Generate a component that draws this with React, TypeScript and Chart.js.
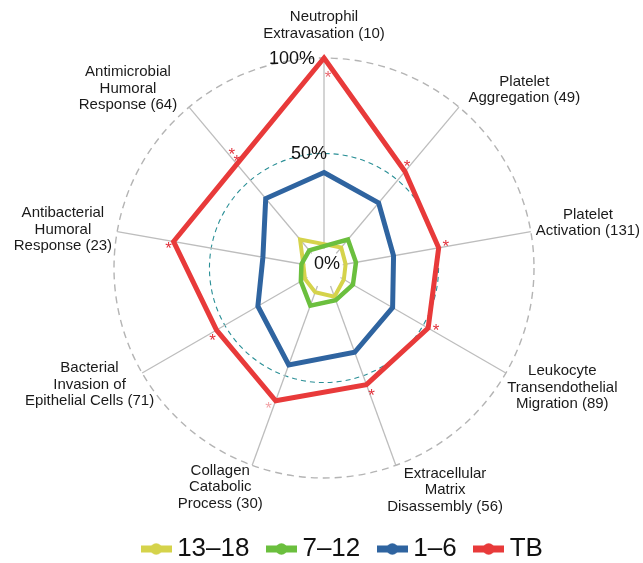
import React, { useEffect, useRef } from 'react';
import { Chart, registerables } from 'chart.js';

Chart.register(...registerables);

// ---------- data ----------
const CATEGORIES: string[][] = [
  ['Neutrophil', 'Extravasation (10)'],
  ['Platelet', 'Aggregation (49)'],
  ['Platelet', 'Activation (131)'],
  ['Leukocyte', 'Transendothelial', 'Migration (89)'],
  ['Extracellular', 'Matrix', 'Disassembly (56)'],
  ['Collagen', 'Catabolic', 'Process (30)'],
  ['Bacterial', 'Invasion of', 'Epithelial Cells (71)'],
  ['Antibacterial', 'Humoral', 'Response (23)'],
  ['Antimicrobial', 'Humoral', 'Response (64)'],
];
const SERIES_NAMES = ['13–18', '7–12', '1–6', 'TB'];
const AGE_13_18 = [2.5, 4, 1.5, 2, 6, 3.5, 1.5, 1, 9.5];
const AGE_7_12 = [1.5, 9.5, 7, 7.5, 8, 11, 4, 2, 2];
const AGE_1_6 = [40, 34.5, 27, 31.5, 37, 44, 30, 22.5, 37.5];
const TB = [100, 56, 51, 53, 55, 64, 55, 70, 61];
const TICK_VALUES = [0, 50, 100];
const TICK_LABELS = ['0%', '50%', '100%'];
// significance asterisks on the TB series: category index and tone
const SIG_INDEX = [0, 1, 2, 3, 4, 5, 6, 7, 8, 8];
const SIG_ALPHA = [0.75, 1, 1, 1, 1, 0.45, 1, 1, 1, 1];

// ---------- styling / layout ----------
const FONT = '"Liberation Sans", Arial, Helvetica, sans-serif';
const COLORS = ['#d5d34b', '#6bbf3e', '#2f64a0', '#e83a3a'];
const WIDTHS = [4, 4.5, 5, 5];
const ORDERS = [3, 2, 1, 0];
const TEAL = '#2a8f96';
const GRID_GRAY = '#b4b4b4';
const CX = 324;
const CY = 268;
const RADIUS = 210;
const LABEL_PAD = 10;
const LABEL_LINE = 16.5;
const LABEL_NUDGE = [[0, -6], [23, 3], [-4, -4], [0, -3], [26, -8], [-14, -11], [12, -6], [4, 4], [-23, 8]];
const SIG_NUDGE = [[4, 15], [2, -9], [7, -6], [8, -2], [5, 6], [-7, 3], [-4, 6], [-5, 3], [-5, -14], [0, -7]];
const TICK_STYLE: [number, number, CanvasTextAlign][] = [[3, 14, 'center'], [3, 0, 'right'], [-9, 0, 'right']];

function makeMarker(color: string): HTMLCanvasElement {
  const c = document.createElement('canvas');
  c.width = 31;
  c.height = 12;
  const g = c.getContext('2d')!;
  g.fillStyle = color;
  g.fillRect(0, 2.5, 31, 7);
  g.beginPath();
  g.arc(15.5, 6, 5.8, 0, Math.PI * 2);
  g.fill();
  return c;
}

const overlayPlugin = {
  id: 'radarOverlay',
  beforeDatasetsDraw(chart: any) {
    const s = chart.scales.r;
    const ctx = chart.ctx as CanvasRenderingContext2D;
    const r0 = s.getDistanceFromCenterForValue(0);
    ctx.save();
    ctx.fillStyle = '#ffffff';
    ctx.beginPath();
    ctx.arc(s.xCenter, s.yCenter, r0, 0, Math.PI * 2);
    ctx.fill();
    ctx.restore();
  },
  afterDatasetsDraw(chart: any) {
    const s = chart.scales.r;
    const ctx = chart.ctx as CanvasRenderingContext2D;
    ctx.save();
    // category labels
    ctx.font = `15px ${FONT}`;
    ctx.fillStyle = '#1a1a1a';
    ctx.textAlign = 'center';
    ctx.textBaseline = 'middle';
    CATEGORIES.forEach((lines, i) => {
      const th = s.getIndexAngle(i);
      const w = Math.max(...lines.map((l) => ctx.measureText(l).width));
      const h = lines.length * LABEL_LINE;
      const p = s.getPointPosition(i, s.drawingArea + LABEL_PAD);
      const cx = p.x + Math.sin(th) * w / 2 + LABEL_NUDGE[i][0];
      const cy = p.y - Math.cos(th) * h / 2 + LABEL_NUDGE[i][1];
      lines.forEach((l, k) => {
        ctx.fillText(l, cx, cy - h / 2 + LABEL_LINE * (k + 0.5));
      });
    });
    // tick labels
    ctx.font = `18px ${FONT}`;
    ctx.fillStyle = '#111';
    TICK_VALUES.forEach((v, k) => {
      const p = s.getPointPosition(0, s.getDistanceFromCenterForValue(v));
      const [dx, dy, align] = TICK_STYLE[k];
      ctx.textAlign = align;
      ctx.fillText(TICK_LABELS[k], p.x + dx, p.y + dy + 1);
    });
    // asterisks
    ctx.font = `17px ${FONT}`;
    ctx.textAlign = 'center';
    ctx.textBaseline = 'alphabetic';
    const meta = chart.getDatasetMeta(3);
    SIG_INDEX.forEach((ci, k) => {
      const pt = meta.data[ci];
      ctx.fillStyle = `rgba(226, 50, 60, ${SIG_ALPHA[k]})`;
      ctx.fillText('*', pt.x + SIG_NUDGE[k][0], pt.y + SIG_NUDGE[k][1] + 10);
    });
    ctx.restore();
  },
};

export default function App() {
  const ref = useRef<HTMLCanvasElement | null>(null);
  useEffect(() => {
    if (!ref.current) return;
    const markers = COLORS.map(makeMarker);
    const series = [AGE_13_18, AGE_7_12, AGE_1_6, TB];
    const chart = new Chart(ref.current, {
      type: 'radar',
      data: {
        labels: CATEGORIES,
        datasets: series.map((d, i) => ({
          label: SERIES_NAMES[i],
          data: d,
          borderColor: COLORS[i],
          backgroundColor: COLORS[i],
          borderWidth: WIDTHS[i],
          fill: false,
          order: ORDERS[i],
          pointRadius: 0,
          pointHoverRadius: 0,
          borderJoinStyle: 'miter',
        })),
      },
      options: {
        responsive: false,
        animation: false,
        layout: { padding: { left: 48, right: 0, top: 0, bottom: 0 } },
        scales: {
          r: {
            min: -10,
            max: 100,
            afterBuildTicks: (sc: any) => {
              sc.ticks = [{ value: 50 }, { value: 100 }];
            },
            afterFit: (sc: any) => {
              sc.xCenter = CX;
              sc.yCenter = CY;
              sc.drawingArea = RADIUS;
            },
            ticks: { display: false },
            pointLabels: { display: false },
            grid: {
              circular: true,
              color: (c: any) => (c.tick && c.tick.value === 50 ? TEAL : GRID_GRAY),
              lineWidth: (c: any) => (c.tick && c.tick.value === 50 ? 1.1 : 1.4),
            },
            border: {
              dash: (c: any) => (c.tick && c.tick.value === 50 ? [5, 4] : [7, 5]),
            },
            angleLines: { color: '#bdbdbd', lineWidth: 1.3 },
          },
        },
        plugins: {
          tooltip: { enabled: false },
          legend: {
            position: 'bottom',
            align: 'center',
            labels: {
              usePointStyle: true,
              pointStyleWidth: 16,
              boxHeight: 12,
              padding: 24,
              color: '#111',
              font: { size: 26, family: FONT },
              sort: (a: any, b: any) => a.datasetIndex - b.datasetIndex,
              generateLabels: (ch: any) => {
                const items = (Chart.defaults.plugins.legend.labels as any).generateLabels(ch);
                return items.map((it: any) => ({ ...it, pointStyle: markers[it.datasetIndex], lineWidth: 0 }));
              },
            },
          },
        },
      } as any,
      plugins: [overlayPlugin],
    });
    return () => chart.destroy();
  }, []);
  return (
    <div style={{ position: 'fixed', left: 0, top: 0, width: 643, height: 572, background: '#fff' }}>
      <canvas ref={ref} width={643} height={572} style={{ width: 643, height: 572, display: 'block' }} />
    </div>
  );
}
